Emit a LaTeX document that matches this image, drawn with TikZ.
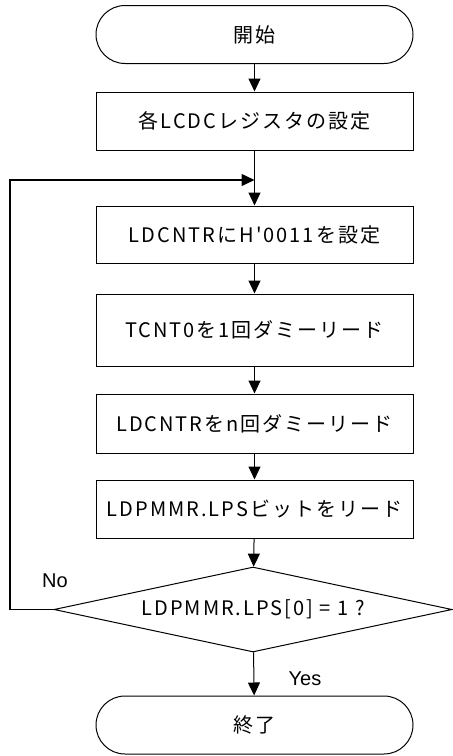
\documentclass[tikz,border=0pt]{standalone}
\usepackage{fontspec}
\setmainfont{Liberation Sans}
\newfontfamily\jpfont[LetterSpace=10]{Noto Sans CJK JP}
\usetikzlibrary{arrows.meta, shapes.geometric}

\tikzset{
  proc/.style={draw, line width=1pt, minimum width=317pt, inner sep=0pt,
    font=\jpfont\fontsize{20}{24}\selectfont},
  term/.style={proc, rounded corners=29pt, minimum height=58pt},
  decide/.style={draw, line width=1pt, diamond, aspect=4.7, inner sep=0pt,
    minimum width=398pt, minimum height=85pt,
    font=\jpfont\fontsize{20}{24}\selectfont},
  flow/.style={line width=1pt, -{Triangle[length=13pt,width=12pt]}},
  lbl/.style={font=\fontsize{20}{24}\selectfont, inner sep=0pt}
}

\begin{document}
\begin{tikzpicture}[x=1pt, y=-1pt]
  \useasboundingbox (0,0) rectangle (453,756);
  \node[term] (start) at (254.5,34.5) {開始};
  \node[proc, minimum height=58pt] (setreg) at (254.5,121) {各LCDCレジスタの設定};
  \coordinate (join) at (254.5,180);
  \node[proc, minimum height=57pt] (setcnt) at (254.5,234.5) {LDCNTRにH'0011を設定};
  \node[proc, minimum height=72pt] (readtc) at (254.5,330) {TCNT0を1回ダミーリード};
  \node[proc, minimum height=59pt] (readcnt) at (254.5,423.5) {LDCNTRをn回ダミーリード};
  \node[proc, minimum height=58pt] (readlps) at (254.5,509) {LDPMMR.LPSビットをリード};
  \node[decide] (check) at (253,609.5) {LDPMMR.LPS[0] = 1 ?};
  \node[term] (stop) at (254.5,725) {終了};
  \coordinate (corner) at (10,609.5);
  \node[lbl] (no) at (55,581) {No};
  \node[lbl] (yes) at (305,679) {Yes};

  \draw[flow] (start) -- (setreg);
  \draw[flow] (setreg) -- (setcnt);
  \draw[flow] (setcnt) -- (readtc);
  \draw[flow] (readtc) -- (readcnt);
  \draw[flow] (readcnt) -- (readlps);
  \draw[flow] (readlps) -- (check);
  \draw[flow] (check) -- (stop);
  \draw[flow, line width=1.5pt] (check.west) -- (corner) |- (join);
\end{tikzpicture}
\end{document}
